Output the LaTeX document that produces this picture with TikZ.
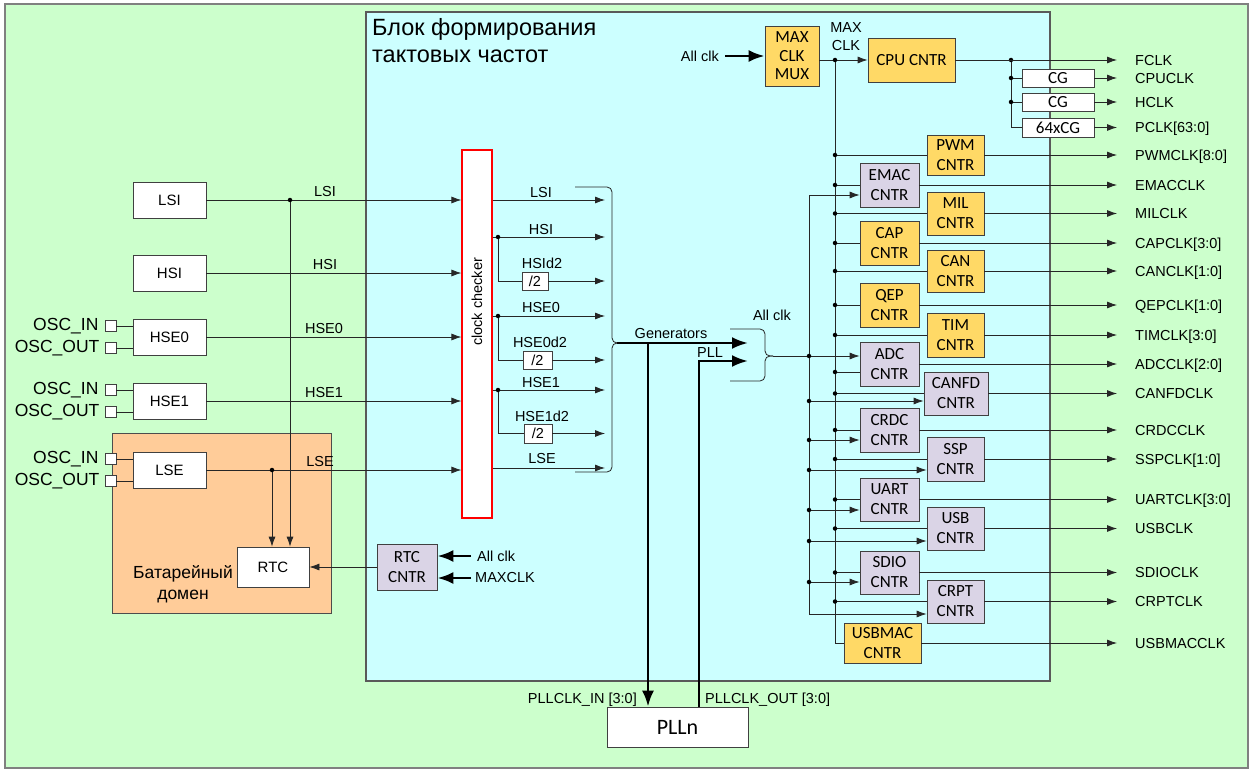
\documentclass[tikz,border=0pt]{standalone}
\usepackage{fontspec}
\setmainfont{Liberation Sans}
\newfontfamily\carl{Carlito}
\usetikzlibrary{arrows.meta}
\definecolor{bggreen}{HTML}{CCFFCC}
\definecolor{bgblue}{HTML}{CCFFFF}
\definecolor{ylw}{HTML}{FFD966}
\definecolor{lav}{HTML}{DAD4E6}
\definecolor{batt}{HTML}{FFCC99}
\definecolor{edge}{HTML}{404040}
\tikzset{
  ln/.style={line width=0.8pt, draw=black!85},
  arr/.style={ln, -{Latex[length=10pt,width=7pt]}},
  tarr/.style={line width=2.6pt, draw=black, -{Latex[length=16pt,width=12pt]}},
  tln/.style={line width=2.6pt, draw=black},
  wbox/.style={draw=edge, fill=white, line width=0.8pt, inner sep=0, font=\fontsize{15}{18}\selectfont},
  cbox/.style={draw=edge, line width=0.8pt, inner sep=0, align=center, font=\carl\fontsize{17}{20}\selectfont},
  ybox/.style={cbox, fill=ylw},
  lbox/.style={cbox, fill=lav},
  lab/.style={inner sep=0, font=\fontsize{14.5}{17}\selectfont},
  rlab/.style={lab, anchor=west, text height=10.4pt, text depth=0pt},
  osclab/.style={inner sep=0, anchor=east, font=\fontsize{17.5}{20}\selectfont},
  oscsq/.style={draw=edge, fill=white, line width=0.8pt, minimum size=11pt, inner sep=0},
  jdot/.style={circle, fill=black, inner sep=0, minimum size=4.5pt},
}
\begin{document}
\begin{tikzpicture}[x=1pt,y=-1pt]
\path[use as bounding box] (0,0) rectangle (1253,773);
\fill[white] (0,0) rectangle (1253,773);
% frames
\draw[fill=bggreen, draw=gray, line width=1.2pt] (5,4) rectangle (1248,768);
\draw[fill=bgblue, draw=gray!70!black, line width=1.2pt] (366,12) rectangle (1050,681);
\draw[fill=batt, draw=black!70, line width=0.8pt] (112,433) rectangle (331,613);
\node[anchor=north west, inner sep=0, align=left, font=\fontsize{23.5}{27}\selectfont] (title) at (372,18) {Блок формирования\\тактовых частот};
\node[inner sep=0, align=center, font=\fontsize{17.5}{21}\selectfont] (battlab) at (183,584.5) {Батарейный\\домен};

% sources
\node[wbox, minimum width=73, minimum height=36] (lsi) at (169.5,200) {LSI};
\node[wbox, minimum width=73, minimum height=36] (hsi) at (169.5,273) {HSI};
\node[wbox, minimum width=73, minimum height=36] (hse0) at (169.5,337) {HSE0};
\node[wbox, minimum width=73, minimum height=36] (hse1) at (169.5,401) {HSE1};
\node[wbox, minimum width=73, minimum height=36] (lse) at (169.5,470) {LSE};

% oscillator pins
\foreach \b/\y in {hse0/337, hse1/401, lse/470} {
  \node[oscsq] (\b-i) at (110.5,\y-11) {};
  \node[oscsq] (\b-o) at (110.5,\y+11) {};
  \draw[ln] (\b-i.east) -- (\b-i.east -| \b.west);
  \draw[ln] (\b-o.east) -- (\b-o.east -| \b.west);
  \node[osclab] at ([xshift=-6pt]\b-i.west) {OSC\_IN};
  \node[osclab] at ([xshift=-5pt]\b-o.west) {OSC\_OUT};
}

% clock checker
\node[draw=red, fill=white, line width=1.2pt, minimum width=30, minimum height=368, inner sep=0] (chk) at (477,334) {};
\node[lab, rotate=90] (chklab) at (477,302) {clock checker};

\foreach \b in {lsi,hsi,hse0,hse1,lse} {
  \draw[arr] (\b.east) -- (\b.east -| chk.west);
}
\node[lab, anchor=base] at (325,196) {LSI};
\node[lab, anchor=base] at (325,269) {HSI};
\node[lab, anchor=base] at (324,333) {HSE0};
\node[lab, anchor=base] at (324,397) {HSE1};
\node[lab, anchor=base] at (320,466) {LSE};

% RTC
\node[wbox, minimum width=72, minimum height=40] (rtc) at (273,567) {RTC};
\node[lbox, minimum width=60, minimum height=46] (rtcc) at (407,567) {RTC\\CNTR};
\draw[arr] (rtcc.west) -- (rtc.east);
\coordinate (jl) at (290,200);
\coordinate (je) at (272,470);
\draw[arr] (jl) -- (jl |- rtc.north);
\draw[arr] (je) -- (je |- rtc.north);
\node[jdot] at (jl) {};
\node[jdot] at (je) {};
\node[lab, anchor=west] (rac) at (477,556) {All clk};
\node[lab, anchor=west] (rmc) at (475,578) {MAXCLK};
\draw[tarr] ([xshift=-6pt]rac.west) -- (rac.west -| rtcc.east);
\draw[tarr] ([xshift=-4pt]rmc.west) -- (rmc.west -| rtcc.east);

% checker outputs
\coordinate (gx) at (605,0);
\node[wbox, minimum width=26, minimum height=18, font=\fontsize{14.5}{17}\selectfont] (d1) at (535,281) {/2};
\node[wbox, minimum width=29, minimum height=18, font=\fontsize{14.5}{17}\selectfont] (d2) at (537.5,360) {/2};
\node[wbox, minimum width=28, minimum height=19, font=\fontsize{14.5}{17}\selectfont] (d3) at (538,433.5) {/2};
\draw[arr] (chk.east |- 0,200) -- (gx |- 0,200);
\draw[arr] (chk.east |- 0,237) -- (gx |- 0,237);
\draw[arr] (chk.east |- 0,316) -- (gx |- 0,316);
\draw[arr] (chk.east |- 0,390) -- (gx |- 0,390);
\draw[arr] (chk.east |- 0,468) -- (gx |- 0,468);
\foreach \y/\d in {237/d1, 316/d2, 390/d3} {
  \draw[ln] (498,\y) -- (498,0 |- \d) -- (\d.west);
  \draw[arr] (\d.east) -- (gx |- \d);
  \node[jdot] at (498,\y) {};
}
\node[lab, anchor=base] at (541,197) {LSI};
\node[lab, anchor=base] at (541,234) {HSI};
\node[lab, anchor=base] at (542,268) {HSId2};
\node[lab, anchor=base] at (541,312) {HSE0};
\node[lab, anchor=base] at (540,347) {HSE0d2};
\node[lab, anchor=base] at (541,387) {HSE1};
\node[lab, anchor=base] at (542,421) {HSE1d2};
\node[lab, anchor=base] at (542,463) {LSE};

% brace 1
\draw[ln, rounded corners=5pt] (575,187) -- (612,187) -- (612,343) -- (618,343);
\draw[ln, rounded corners=5pt] (575,472) -- (612,472) -- (612,343) -- (618,343);

% PLL
\node[wbox, font=\carl\fontsize{22}{24}\selectfont, minimum width=141, minimum height=40] (pll) at (677.5,727) {PLLn};
\coordinate (gt) at (617,343);
\coordinate (gend) at (748,343);
\draw[tarr] (gt) -- (gend);
\draw[tarr] (648,343) -- (648,0 |- pll.north);
\draw[tarr] (699,0 |- pll.north) -- (699,361) -- (748,361);
\node[lab, anchor=base] at (671,338) {Generators};
\node[lab, anchor=base] at (710,357) {PLL};
\node[lab, anchor=base east] at (637,703) {PLLCLK\_IN [3:0]};
\node[lab, anchor=base west] at (705,703) {PLLCLK\_OUT [3:0]};

% brace 2
\draw[ln, rounded corners=5pt] (730,329) -- (765,329) -- (765,356) -- (773,356);
\draw[ln, rounded corners=5pt] (730,381) -- (765,381) -- (765,356) -- (773,356);
\node[lab, anchor=base] at (772,320) {All clk};

% MUX / CPU
\node[ybox, minimum width=54, minimum height=60, font=\carl\fontsize{17}{18.5}\selectfont] (mux) at (792,56) {MAX\\CLK\\MUX};
\node[ybox, minimum width=87, minimum height=44] (cpu) at (911.5,60) {CPU CNTR};
\node[lab, anchor=east] (tac) at (719,56) {All clk};
\draw[tarr] ([xshift=6pt]tac.east) -- (tac.east -| mux.west);
\draw[arr] (mux.east |- cpu) -- (cpu.west);
\node[lab, align=center, font=\fontsize{14.5}{18}\selectfont] (mclab) at (846,37) {MAX\\CLK};

% CG
\node[cbox, fill=white, minimum width=72, minimum height=18, font=\carl\fontsize{17}{18}\selectfont] (cg1) at (1058,78) {CG};
\node[cbox, fill=white, minimum width=72, minimum height=18, font=\carl\fontsize{17}{18}\selectfont] (cg2) at (1058,102) {CG};
\node[cbox, fill=white, minimum width=72, minimum height=19, font=\carl\fontsize{17}{18}\selectfont] (cg3) at (1058,127.5) {64xCG};
\coordinate (jf) at (1011,60);
\draw[ln] (jf) -- (jf |- cg3) -- (cg3.west);
\draw[ln] (jf |- cg1) -- (cg1.west);
\draw[ln] (jf |- cg2) -- (cg2.west);
\node[jdot] at (jf) {};
\node[jdot] at (jf |- cg1) {};
\node[jdot] at (jf |- cg2) {};

% CNTR boxes
\node[ybox, minimum width=57, minimum height=40] (pwm) at (955.5,155) {PWM\\CNTR};
\node[lbox, minimum width=59, minimum height=44] (emac) at (889.5,185) {EMAC\\CNTR};
\node[ybox, minimum width=57, minimum height=43] (mil) at (955.5,213.5) {MIL\\CNTR};
\node[ybox, minimum width=59, minimum height=44] (cap) at (889.5,243) {CAP\\CNTR};
\node[ybox, minimum width=57, minimum height=42] (can) at (955.5,271) {CAN\\CNTR};
\node[ybox, minimum width=59, minimum height=44] (qep) at (889.5,305) {QEP\\CNTR};
\node[ybox, minimum width=57, minimum height=44] (tim) at (955.5,335) {TIM\\CNTR};
\node[lbox, minimum width=59, minimum height=44] (adc) at (889.5,364) {ADC\\CNTR};
\node[lbox, minimum width=64, minimum height=43] (canfd) at (956,393.5) {CANFD\\CNTR};
\node[lbox, minimum width=59, minimum height=44] (crdc) at (889.5,430) {CRDC\\CNTR};
\node[lbox, minimum width=57, minimum height=44] (ssp) at (955.5,459) {SSP\\CNTR};
\node[lbox, minimum width=59, minimum height=43] (uart) at (889.5,499.5) {UART\\CNTR};
\node[lbox, minimum width=57, minimum height=43] (usb) at (955.5,528.5) {USB\\CNTR};
\node[lbox, minimum width=59, minimum height=43] (sdio) at (889.5,572.5) {SDIO\\CNTR};
\node[lbox, minimum width=57, minimum height=43] (crpt) at (955.5,601.5) {CRPT\\CNTR};
\node[ybox, minimum width=77, minimum height=40] (usbmac) at (882.5,643) {USBMAC\\CNTR};

% MAX CLK bus
\coordinate (busM) at (835,60);
\draw[ln] (busM) -- (busM |- usbmac) -- (usbmac.west);
\node[jdot] at (busM) {};
\foreach \b in {pwm,emac,mil,cap,can,qep,tim,canfd,crdc,ssp,uart,usb,sdio,crpt} {
  \draw[ln] (\b.west -| busM) -- (\b.west);
  \node[jdot] at (\b.west -| busM) {};
}
\draw[ln] (busM |- 0,372) -- (adc.west |- 0,372);
\node[jdot] at (busM |- 0,372) {};

% All clk bus
\coordinate (busA) at (809,195);
\draw[ln] (busA) -- (809,614);
\draw[arr] (773,356) -- (adc.west |- 0,356);
\node[jdot] at (809,356) {};
\foreach \b/\y in {emac/195, canfd/401, crdc/440, ssp/470, uart/510, usb/541, sdio/582, crpt/614} {
  \draw[arr] (809,\y) -- (\b.west |- 0,\y);
}
\foreach \y in {401,440,470,510,541,582} {
  \node[jdot] at (809,\y) {};
}

% outputs
\foreach \b/\t in {cpu/FCLK, cg1/CPUCLK, cg2/HCLK, cg3/{PCLK[63:0]}, pwm/{PWMCLK[8:0]}, emac/EMACCLK, mil/MILCLK, cap/{CAPCLK[3:0]}, can/{CANCLK[1:0]}, qep/{QEPCLK[1:0]}, tim/{TIMCLK[3:0]}, adc/{ADCCLK[2:0]}, canfd/CANFDCLK, crdc/CRDCCLK, ssp/{SSPCLK[1:0]}, uart/{UARTCLK[3:0]}, usb/USBCLK, sdio/SDIOCLK, crpt/CRPTCLK, usbmac/USBMACCLK} {
  \node[rlab] (\b-l) at (1135,0 |- \b) {\t};
  \draw[arr, shorten >=18pt] (\b.east) -- (\b.east -| \b-l.west);
}
\end{tikzpicture}
\end{document}
